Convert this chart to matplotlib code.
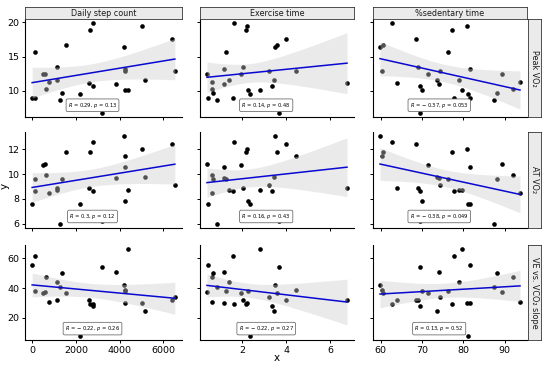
import numpy as np
import matplotlib
matplotlib.use("Agg")
import matplotlib.pyplot as plt

# one entry per participant
steps = [0, 150, 140, 475, 598, 644, 782, 1134, 1150, 1288, 1380, 1533, 2192, 2591,
         2652, 2790, 2790, 3189, 3817, 4216, 4231, 4246, 4246, 4384, 5013, 5151, 6377, 6530]
exercise = [0.46, 1.28, 1.58, 1.93, 0.41, 0.65, 0.65, 2.04, 1.42, 0.88, 0.67, 3.57, 2.36, 6.75,
            2.16, 1.63, 3.35, 3.68, 1.19, 3.47, 4.43, 1.16, 2.28, 2.79, 2.22, 3.45, 3.99, 3.20]
sedentary = [81.7, 76.3, 77.7, 71.5, 89.3, 92.0, 93.7, 69.1, 78.9, 87.4, 88.2, 60.6, 81.1, 63.8,
             77.2, 62.8, 69.6, 69.4, 74.2, 59.8, 60.2, 81.5, 69.9, 79.7, 80.8, 73.7, 68.5, 74.3]
peak_vo2 = [8.95, 15.65, 8.95, 12.4, 12.45, 10.2, 11.25, 13.45, 11.55, 8.6, 9.7, 16.7, 9.55, 11.2,
            18.9, 19.85, 10.75, 6.8, 10.95, 16.4, 12.95, 13.2, 10.1, 10.1, 19.45, 11.5, 17.6, 12.85]
at_vo2 = [7.6, 9.6, 8.6, 10.7, 10.8, 9.9, 8.5, 8.9, 8.7, 6.0, 9.6, 11.8, 7.6, 8.9,
          11.8, 12.6, 8.6, 6.2, 9.7, 13.05, 11.5, 10.6, 7.8, 8.7, 12.0, 9.8, 12.4, 9.1]
ve_slope = [55.8, 38.0, 61.8, 36.9, 37.6, 47.3, 30.7, 32.2, 44.4, 40.4, 50.0, 36.4, 7.8, 32.2,
            29.1, 29.5, 28.2, 54.4, 50.7, 42.4, 38.4, 30.0, 37.8, 66.2, 29.6, 24.4, 31.8, 34.0]

col_names = ["Daily step count", "Exercise time", "%sedentary time"]
row_names = ["Peak VO\u2082", "AT VO\u2082", "VE vs. VCO\u2082 slope"]
x_ticks = [[0, 2000, 4000, 6000], [2, 4, 6], [60, 70, 80, 90]]
y_ticks = [[10, 15, 20], [6, 8, 10, 12], [20, 40, 60]]
stat_labels = [
    ["0.29, $p$ = 0.13", "0.14, $p$ = 0.48", "\u2212 0.37, $p$ = 0.053"],
    ["0.3, $p$ = 0.12", "0.16, $p$ = 0.43", "\u2212 0.38, $p$ = 0.049"],
    ["\u2212 0.22, $p$ = 0.26", "\u2212 0.22, $p$ = 0.27", "0.13, $p$ = 0.52"],
]

xs = [np.array(steps), np.array(exercise), np.array(sedentary)]
ys = [np.array(peak_vo2), np.array(at_vo2), np.array(ve_slope)]

W, H = 550, 368
col_px = [(25, 182), (200, 354), (373, 527)]
row_px = [(19, 117), (132, 228), (245, 340)]
T_CRIT = 2.056  # t(0.975, df=26)


def lm_band(x, y, grid):
    n = len(x)
    b, a = np.polyfit(x, y, 1)
    resid = y - (a + b * x)
    s = np.sqrt(np.sum(resid ** 2) / (n - 2))
    sxx = np.sum((x - x.mean()) ** 2)
    fit = a + b * grid
    se = s * np.sqrt(1.0 / n + (grid - x.mean()) ** 2 / sxx)
    return fit, fit - T_CRIT * se, fit + T_CRIT * se


def expand(v):
    lo, hi = v.min(), v.max()
    pad = (hi - lo) * 0.05
    return lo - pad, hi + pad


fig = plt.figure(figsize=(5.5, 3.68), dpi=100)
line_col = "#0808d0"

for r in range(3):
    for c in range(3):
        x0, x1 = col_px[c]
        y0, y1 = row_px[r]
        ax = fig.add_axes([x0 / W, 1 - y1 / H, (x1 - x0) / W, (y1 - y0) / H])
        x, y = xs[c], ys[r]
        ax.scatter(x, y, s=11, color="black", zorder=2, linewidths=0)
        grid = np.linspace(x.min(), x.max(), 80)
        fit, lo, hi = lm_band(x, y, grid)
        ax.fill_between(grid, lo, hi, color="#cccccc", alpha=0.4, lw=0, zorder=3)
        ax.plot(grid, fit, color=line_col, lw=1.1, zorder=4)
        ax.set_xlim(*expand(x))
        ax.set_ylim(*expand(y))
        ax.set_xticks(x_ticks[c])
        ax.set_yticks(y_ticks[r])
        for side in ["top", "right"]:
            ax.spines[side].set_visible(False)
        for side in ["left", "bottom"]:
            ax.spines[side].set_linewidth(0.8)
        ax.tick_params(length=2.5, width=0.7, labelsize=6.8, pad=1.5, colors="black")
        if r < 2:
            ax.set_xticklabels([])
        if c > 0:
            ax.set_yticklabels([])
        ax.text(0.43, 0.12, "$R$ = " + stat_labels[r][c], transform=ax.transAxes,
                fontsize=3.7, ha="center", va="center", zorder=5,
                bbox=dict(boxstyle="round,pad=0.35,rounding_size=0.3", fc="white",
                          ec="#555555", lw=0.5))

        if r == 0:
            sax = fig.add_axes([x0 / W, 1 - 19 / H, (x1 - x0) / W, 12 / H])
            sax.set_xticks([])
            sax.set_yticks([])
            sax.set_facecolor("#ebebeb")
            for sp in sax.spines.values():
                sp.set_color("#333333")
                sp.set_linewidth(0.6)
            sax.text(0.5, 0.5, col_names[c], ha="center", va="center",
                     fontsize=5.8, color="#1a1a1a", transform=sax.transAxes)
        if c == 2:
            sax = fig.add_axes([528 / W, 1 - y1 / H, 13 / W, (y1 - y0) / H])
            sax.set_xticks([])
            sax.set_yticks([])
            sax.set_facecolor("#ebebeb")
            for sp in sax.spines.values():
                sp.set_color("#333333")
                sp.set_linewidth(0.6)
            sax.text(0.5, 0.5, row_names[r], ha="center", va="center", rotation=270,
                     fontsize=5.8, color="#1a1a1a", transform=sax.transAxes)

fig.text(5 / W, 1 - 186 / H, "y", rotation=90, ha="center", va="center", fontsize=7.5)
fig.text(277 / W, 1 - 358 / H, "x", ha="center", va="center", fontsize=7.5)

fig.savefig("out.png", dpi=100)
